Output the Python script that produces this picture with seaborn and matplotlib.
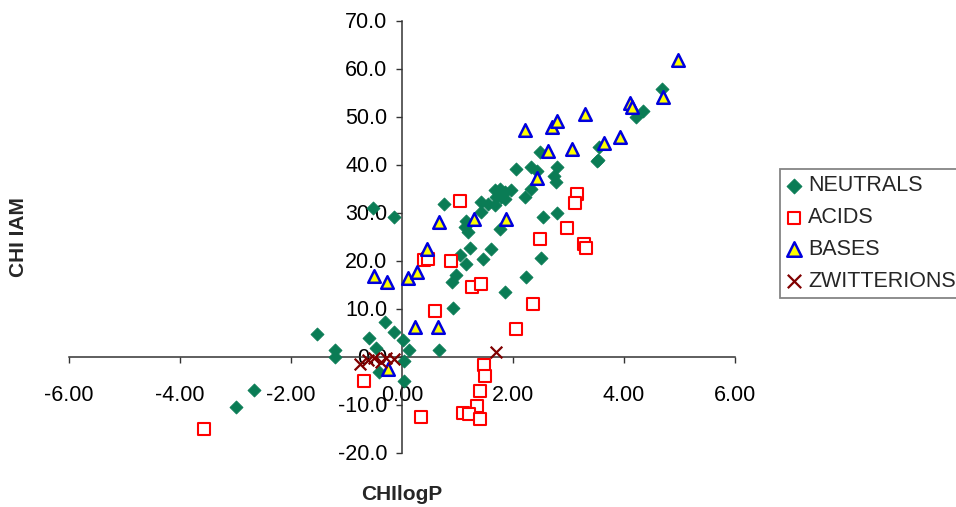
import matplotlib
matplotlib.use("Agg")
import matplotlib.pyplot as plt
import seaborn as sns
import numpy as np
from matplotlib.ticker import FormatStrFormatter

# ---- data ----
neutral_x = [-3.00, -2.66, -1.54, -1.20, -1.21, -0.59, -0.30, -0.14, 0.02, -0.46,
             0.13, 0.67, 0.04, -0.41, 0.04, 0.91, 0.90, 0.98, -0.53, -0.14,
             0.75, 1.05, 1.15, 1.23, 1.19, 1.13, 1.15, 1.43, 1.43, 1.55,
             1.67, 1.85, 1.67, 1.76, 1.85, 1.97, 1.70, 1.79, 2.06, 2.32,
             2.43, 2.80, 2.73, 2.77, 3.52, 2.48, 2.21, 2.33, 1.76, 2.54,
             2.80, 1.61, 1.46, 2.51, 2.24, 1.85, 4.68, 4.35, 4.22, 3.55,
             3.53]
neutral_y = [-10.6, -6.9, 4.6, 1.4, 0.0, 3.9, 7.1, 5.1, 3.5, 1.8,
             1.3, 1.4, -1.0, -3.3, -5.2, 10.2, 15.6, 16.9, 31.0, 29.0,
             31.7, 21.2, 19.2, 22.6, 26.0, 27.0, 28.2, 30.1, 32.1, 31.8,
             31.5, 32.9, 34.6, 34.9, 34.2, 34.6, 33.2, 33.2, 39.1, 39.4,
             38.7, 39.4, 37.7, 36.3, 40.8, 42.6, 33.2, 34.9, 26.6, 29.0,
             29.9, 22.4, 20.3, 20.6, 16.5, 13.5, 55.8, 51.2, 50.0, 43.6,
             41.0]

acid_x = [-3.57, -0.68, 0.35, 0.59, 0.39, 0.47, 0.89, 1.05, 1.26, 1.43,
          3.16, 3.11, 2.97, 2.48, 3.28, 3.31, 2.36, 2.06, 1.48, 1.49,
          1.41, 1.36, 1.10, 1.20, 1.41]
acid_y = [-15.1, -5.0, -12.5, 9.4, 20.1, 20.3, 19.8, 32.4, 14.4, 15.1,
          33.8, 32.0, 26.7, 24.5, 23.5, 22.6, 11.0, 5.8, -1.7, -4.0,
          -7.1, -10.4, -11.8, -11.9, -13.0]

base_x = [-0.51, -0.27, 0.10, 0.27, 0.45, 0.66, 1.29, 0.24, 0.65, -0.26,
          1.87, 2.43, 2.21, 2.71, 2.80, 3.29, 2.63, 3.07, 4.98, 4.70,
          4.11, 4.14, 3.93, 3.64]
base_y = [16.7, 15.6, 16.4, 17.6, 22.3, 28.0, 28.7, 6.1, 6.1, -2.5,
          28.7, 37.1, 47.1, 47.9, 49.0, 50.5, 42.8, 43.3, 61.7, 54.0,
          52.8, 51.9, 45.8, 44.4]

zwit_x = [-0.75, -0.62, -0.50, -0.38, -0.28, -0.15, 1.70]
zwit_y = [-1.5, -0.8, -0.4, -1.2, -0.3, -0.6, 0.9]

x_ticks = [-6, -4, -2, 0, 2, 4, 6]
y_ticks = [-20, -10, 0, 10, 20, 30, 40, 50, 60, 70]
x_label = "CHIlogP"
y_label = "CHI IAM"
series_labels = ["NEUTRALS", "ACIDS", "BASES", "ZWITTERIONS"]

# ---- style ----
sns.set_theme(style="white")
plt.rcParams["font.family"] = ["Liberation Sans", "DejaVu Sans"]
plt.rcParams["axes.unicode_minus"] = False

fig = plt.figure(figsize=(9.56, 5.07), dpi=100)
ax = fig.add_axes([69 / 956, 1 - 452.5 / 507, 666 / 956, 432 / 507])

green = "#0a7c55"
sns.scatterplot(x=neutral_x, y=neutral_y, ax=ax, marker="D", color=green,
                edgecolor=green, s=44, linewidth=0.6, label=series_labels[0],
                legend=False, zorder=3)
sns.scatterplot(x=acid_x, y=acid_y, ax=ax, marker="s", color="white",
                edgecolor="#ff0000", s=64, linewidth=1.5, label=series_labels[1],
                legend=False, zorder=3)
sns.scatterplot(x=base_x, y=base_y, ax=ax, marker="^", color="#ffff00",
                edgecolor="#0000dd", s=82, linewidth=1.8, label=series_labels[2],
                legend=False, zorder=4)
sns.scatterplot(x=zwit_x, y=zwit_y, ax=ax, marker="x", color="#800000",
                s=70, linewidth=1.6, label=series_labels[3],
                legend=False, zorder=4)

ax.set_xlim(-6, 6)
ax.set_ylim(-20, 70)
ax.set_xticks(x_ticks)
ax.set_yticks(y_ticks)
ax.xaxis.set_major_formatter(FormatStrFormatter("%.2f"))
ax.yaxis.set_major_formatter(FormatStrFormatter("%.1f"))
ax.set_xlabel("")
ax.set_ylabel("")

for side in ["top", "right"]:
    ax.spines[side].set_visible(False)
ax.spines["left"].set_position(("data", 0))
ax.spines["bottom"].set_position(("data", 0))
for side in ["left", "bottom"]:
    ax.spines[side].set_color("#333333")
    ax.spines[side].set_linewidth(1.1)
ax.set_facecolor("white")
ax.patch.set_alpha(0)

ax.tick_params(axis="both", which="major", direction="out", length=4.5,
               width=1.0, color="#333333", labelsize=15.5, labelcolor="black",
               bottom=True, left=True)
ax.tick_params(axis="x", pad=16)
ax.tick_params(axis="y", pad=6)

fig.text(18 / 956, 1 - 237 / 507, y_label, rotation=90, ha="center",
         va="center", fontsize=15, fontweight="bold")
fig.text(402 / 956, 1 - 495 / 507, x_label, ha="center", va="center",
         fontsize=15, fontweight="bold")

handles, labels = ax.get_legend_handles_labels()
leg = fig.legend(handles, labels, loc="upper left",
                 bbox_to_anchor=(780 / 956, 1 - 169 / 507),
                 borderaxespad=0, fontsize=15.5, frameon=True, fancybox=False,
                 handlelength=0.7, handletextpad=0.3, borderpad=0.3,
                 labelspacing=0.5, scatterpoints=1, markerscale=1.15)
leg.get_frame().set_edgecolor("#666666")
leg.get_frame().set_linewidth(1.3)
leg.get_frame().set_facecolor("white")

fig.savefig("out.png", dpi=100, facecolor="white")
